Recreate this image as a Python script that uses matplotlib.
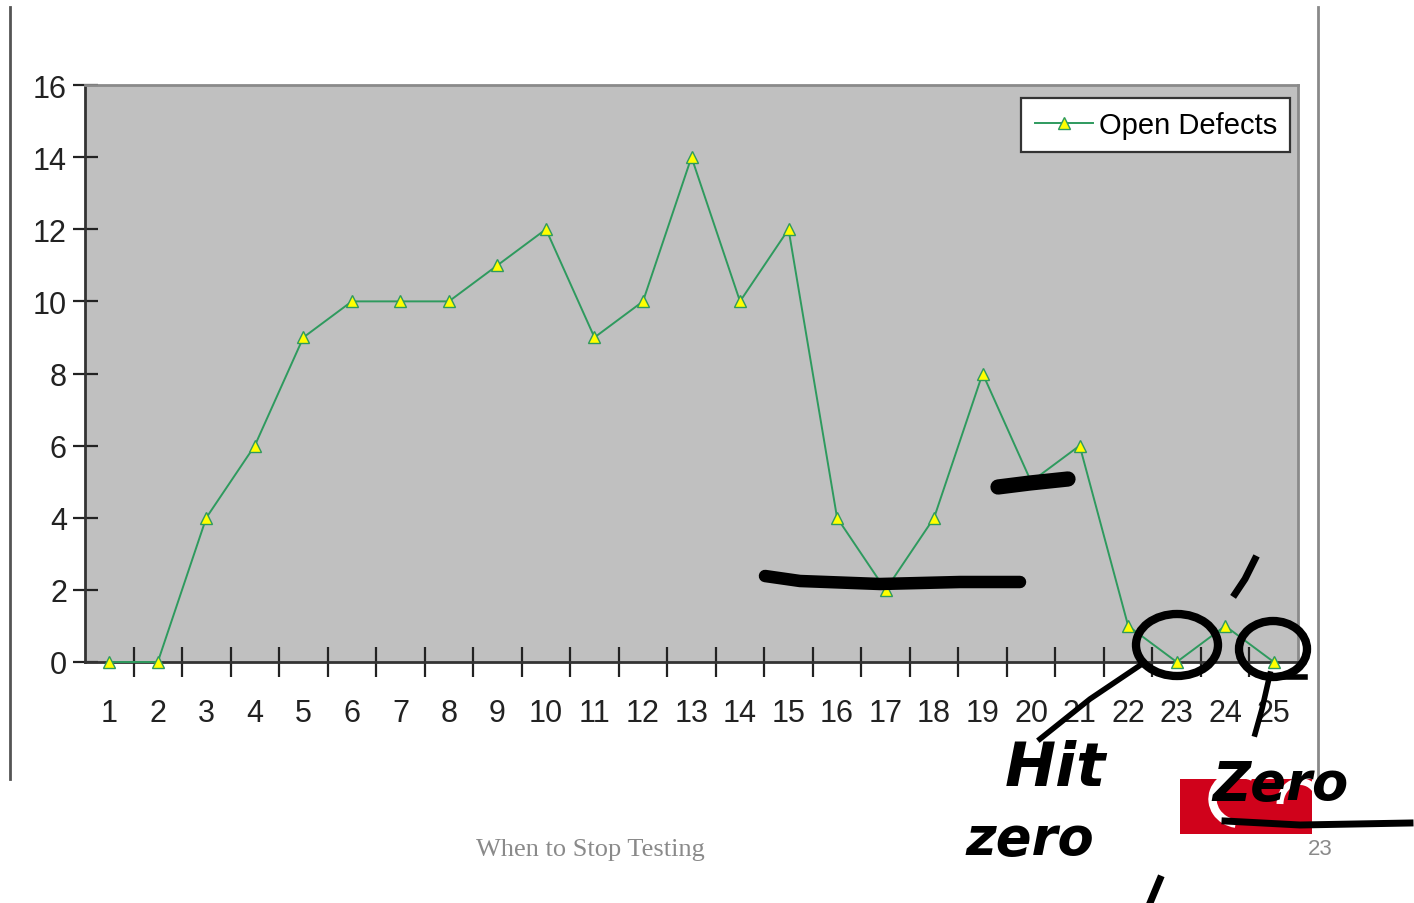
import numpy as np
import matplotlib
matplotlib.use("Agg")
import matplotlib.pyplot as plt
from matplotlib.patches import Ellipse, Rectangle, Arc

# data
weeks = list(range(1, 26))
open_defects = [0, 0, 4, 6, 9, 10, 10, 10, 11, 12, 9, 10, 14, 10, 12, 4, 2, 4, 8, 5, 6, 1, 0, 1, 0]
y_ticks = [0, 2, 4, 6, 8, 10, 12, 14, 16]

W, H = 1414, 904
fig = plt.figure(figsize=(W / 100, H / 100), dpi=100)
fig.patch.set_facecolor("white")

narrow = ["Liberation Sans Narrow", "Liberation Sans", "DejaVu Sans"]

ax = fig.add_axes([85 / W, 1 - 663 / H, (1298 - 85) / W, (663 - 86) / H])
ax.set_facecolor("#C0C0C0")

ax.plot(weeks, open_defects, color="#2E9A5E", linewidth=1.4,
        marker="^", markersize=9, markerfacecolor="#FFFF00",
        markeredgecolor="#2E9A5E", markeredgewidth=1.0,
        label="Open Defects", zorder=3, clip_on=False)

ax.set_xlim(0.5, 25.5)
ax.set_ylim(0, 16)

# y axis
ax.set_yticks(y_ticks)
ax.set_yticklabels([str(v) for v in y_ticks], fontsize=22, family=narrow)
ax.tick_params(axis="y", direction="inout", length=18, width=1.6, pad=4,
               color="#222222", labelcolor="#222222")

# x axis: ticks between categories, labels at centers
ax.set_xticks(np.arange(1.5, 25.5, 1))
ax.set_xticklabels([])
ax.set_xticks(weeks, minor=True)
ax.set_xticklabels([str(w) for w in weeks], minor=True, fontsize=22, family=narrow)
ax.tick_params(axis="x", which="major", direction="inout", length=22, width=1.6,
               color="#222222")
ax.tick_params(axis="x", which="minor", length=0, pad=26, labelcolor="#222222")

for side in ["left", "bottom"]:
    ax.spines[side].set_color("#333333")
    ax.spines[side].set_linewidth(2)
for side in ["top", "right"]:
    ax.spines[side].set_color("#8a8a8a")
    ax.spines[side].set_linewidth(2)

leg = ax.legend(loc="upper right", bbox_to_anchor=(0.9935, 0.978),
                prop={"family": narrow, "size": 21}, frameon=True, fancybox=False,
                handlelength=2.0, handletextpad=0.2, borderpad=0.45,
                borderaxespad=0)
leg.get_frame().set_edgecolor("#333333")
leg.get_frame().set_linewidth(1.6)
leg.get_frame().set_facecolor("white")
leg.get_frame().set_alpha(1)

# overlay in pixel coords for slide decoration and ink notes
ov = fig.add_axes([0, 0, 1, 1], facecolor="none")
ov.set_xlim(0, W)
ov.set_ylim(H, 0)
ov.axis("off")

ov.plot([10, 10], [8, 780], color="#555555", linewidth=2)
ov.plot([1318, 1318], [8, 780], color="#8a8a8a", linewidth=2)

ov.text(590, 850, "When to Stop Testing", ha="center", va="center",
        fontsize=19, color="#8a8a8a", family=["Liberation Serif", "DejaVu Serif"])
ov.text(1320, 850, "23", ha="center", va="center", fontsize=16,
        color="#8a8a8a", family=["Liberation Sans Narrow", "Liberation Sans"])

# logo
ov.add_patch(Rectangle((1180, 780), 132, 55, facecolor="#D0021B", edgecolor="none"))
ov.add_patch(Arc((1240, 800), 55, 50, theta1=100, theta2=300, color="white", linewidth=6))
ov.add_patch(Arc((1300, 805), 40, 45, theta1=180, theta2=330, color="white", linewidth=5))

# handwritten ink
ink = dict(color="black", linewidth=9, solid_capstyle="round")
ov.plot([765, 800, 880, 960, 1020], [577, 582, 585, 583, 583], **ink)
ov.plot([998, 1030, 1068], [488, 484, 480], color="black", linewidth=11,
        solid_capstyle="round")
ov.add_patch(Ellipse((1177, 646), 82, 62, fill=False, edgecolor="black", linewidth=6))
ov.add_patch(Ellipse((1273, 650), 68, 56, fill=False, edgecolor="black", linewidth=6))
ov.plot([1142, 1090, 1040], [665, 700, 740], color="black", linewidth=4)
ov.plot([1270, 1262, 1255], [675, 710, 735], color="black", linewidth=4)
ov.plot([1280, 1305], [678, 678], color="black", linewidth=4)
ov.plot([1255, 1245, 1235], [560, 580, 595], color="black", linewidth=5)
ov.plot([1225, 1300, 1410], [822, 826, 824], color="black", linewidth=5)
ov.plot([1160, 1150], [880, 904], color="black", linewidth=5)

hand = dict(color="black", fontweight="bold", fontstyle="italic",
            family="DejaVu Sans", ha="center", va="center")
ov.text(1055, 770, "Hit", fontsize=44, **hand)
ov.text(1030, 840, "zero", fontsize=38, **hand)
ov.text(1280, 785, "Zero", fontsize=38, **hand)

fig.savefig("out.png", dpi=100, facecolor="white")
